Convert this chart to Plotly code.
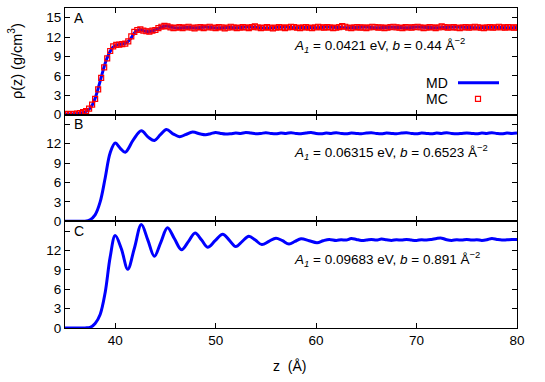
import plotly.graph_objects as go
from plotly.subplots import make_subplots

# ---------------- data ----------------
# Panel A: MC (red squares)
mc_z = [35.0, 35.3, 35.6, 35.9, 36.2, 36.5, 36.8, 37.1, 37.4, 37.7,
        38.0, 38.3, 38.6, 38.9, 39.2, 39.5, 39.8, 40.1, 40.4, 40.7,
        41.0, 41.3, 41.6, 41.9, 42.2, 42.5, 42.8, 43.1, 43.4, 43.7,
        44.0, 44.3, 44.6, 44.9, 45.2, 45.5, 45.8, 46.1, 46.4, 46.7,
        47.0, 47.3, 47.6, 47.9, 48.2, 48.5, 48.8, 49.1, 49.4, 49.7,
        50.0, 50.3, 50.6, 50.9, 51.2, 51.5, 51.8, 52.1, 52.4, 52.7,
        53.0, 53.3, 53.6, 53.9, 54.2, 54.5, 54.8, 55.1, 55.4, 55.7,
        56.0, 56.3, 56.6, 56.9, 57.2, 57.5, 57.8, 58.1, 58.4, 58.7,
        59.0, 59.3, 59.6, 59.9, 60.2, 60.5, 60.8, 61.1, 61.4, 61.7,
        62.0, 62.3, 62.6, 62.9, 63.2, 63.5, 63.8, 64.1, 64.4, 64.7,
        65.0, 65.3, 65.6, 65.9, 66.2, 66.5, 66.8, 67.1, 67.4, 67.7,
        68.0, 68.3, 68.6, 68.9, 69.2, 69.5, 69.8, 70.1, 70.4, 70.7,
        71.0, 71.3, 71.6, 71.9, 72.2, 72.5, 72.8, 73.1, 73.4, 73.7,
        74.0, 74.3, 74.6, 74.9, 75.2, 75.5, 75.8, 76.1, 76.4, 76.7,
        77.0, 77.3, 77.6, 77.9, 78.2, 78.5, 78.8, 79.1, 79.4, 79.7,
        80.0]
mc_rho = [0.10, 0.12, 0.10, 0.14, 0.18, 0.25, 0.38, 0.55, 0.95, 1.55,
          2.45, 3.90, 5.70, 7.30, 8.70, 9.85, 10.55, 10.80, 10.85, 10.90,
          11.00, 11.35, 12.10, 12.80, 13.10, 13.20, 13.00, 12.90, 12.85, 13.00,
          13.10, 13.40, 13.60, 13.75, 13.65, 13.50, 13.40, 13.45, 13.55, 13.40,
          13.50, 13.60, 13.45, 13.35, 13.50, 13.55, 13.40, 13.50, 13.60, 13.45,
          13.40, 13.55, 13.50, 13.35, 13.45, 13.60, 13.50, 13.40, 13.45, 13.55,
          13.50, 13.40, 13.55, 13.65, 13.50, 13.40, 13.45, 13.55, 13.45, 13.35,
          13.45, 13.55, 13.50, 13.40, 13.50, 13.60, 13.55, 13.45, 13.40, 13.50,
          13.55, 13.45, 13.40, 13.50, 13.60, 13.50, 13.45, 13.55, 13.50, 13.40,
          13.45, 13.55, 13.70, 13.60, 13.45, 13.40, 13.50, 13.55, 13.45, 13.50,
          13.40, 13.50, 13.60, 13.55, 13.45, 13.50, 13.40, 13.45, 13.55, 13.60,
          13.50, 13.45, 13.40, 13.55, 13.50, 13.45, 13.55, 13.60, 13.50, 13.40,
          13.45, 13.55, 13.50, 13.40, 13.50, 13.65, 13.55, 13.45, 13.50, 13.55,
          13.45, 13.40, 13.50, 13.55, 13.45, 13.50, 13.60, 13.50, 13.45, 13.40,
          13.50, 13.55, 13.45, 13.50, 13.60, 13.50, 13.45, 13.55, 13.50, 13.45,
          13.50]

# Panel A: MD (blue line)
md_a_z = [35.0, 35.5, 36.0, 36.5, 37.0, 37.3, 37.6, 37.9, 38.2, 38.5,
          38.8, 39.1, 39.4, 39.7, 40.0, 40.4, 40.8, 41.2, 41.6, 42.0,
          42.4, 42.8, 43.2, 43.6, 44.0, 44.4, 44.8, 45.2, 45.7, 46.2,
          47, 48, 49, 50, 51, 52, 53, 54, 55, 56,
          57, 58, 59, 60, 61, 62, 63, 64, 65, 66,
          67, 68, 69, 70, 71, 72, 73, 74, 75, 76,
          77, 78, 79, 80]
md_a_rho = [0.10, 0.10, 0.14, 0.22, 0.42, 0.70, 1.20, 2.10, 3.50, 5.20,
            6.90, 8.40, 9.50, 10.30, 10.70, 10.85, 10.95, 11.20, 11.90, 12.80,
            13.15, 13.00, 12.85, 12.90, 13.10, 13.40, 13.65, 13.70, 13.50, 13.40,
            13.50, 13.45, 13.55, 13.40, 13.50, 13.45, 13.55, 13.50, 13.40, 13.50,
            13.55, 13.45, 13.50, 13.45, 13.55, 13.50, 13.45, 13.50, 13.55, 13.45,
            13.50, 13.50, 13.45, 13.55, 13.50, 13.45, 13.50, 13.55, 13.50, 13.45,
            13.50, 13.50, 13.45, 13.50]

# Panel B: MD
md_b_z = [35.0, 36.0, 37.0, 37.5, 38.0, 38.5, 39.0, 39.5, 40.0, 40.5,
          41.0, 41.8, 42.6, 43.3, 43.9, 44.5, 45.1, 45.8, 46.4, 47.0,
          47.7, 48.5, 49.0, 49.5, 50.0, 50.5, 51.0, 51.5, 52.0, 52.5,
          53.0, 53.5, 54.0, 54.5, 55.0, 55.5, 56.0, 56.5, 57.0, 57.5,
          58.0, 58.5, 59.0, 59.5, 60.0, 60.5, 61.0, 61.5, 62.0, 62.5,
          63.0, 63.5, 64.0, 64.5, 65.0, 65.5, 66.0, 66.5, 67.0, 67.5,
          68.0, 68.5, 69.0, 69.5, 70.0, 70.5, 71.0, 71.5, 72.0, 72.5,
          73.0, 73.5, 74.0, 74.5, 75.0, 75.5, 76.0, 76.5, 77.0, 77.5,
          78.0, 78.5, 79.0, 79.5, 80.0]
md_b_rho = [0.0, 0.0, 0.03, 0.25, 1.0, 3.0, 6.7, 10.6, 12.1, 11.3,
            10.7, 12.6, 14.0, 13.0, 12.5, 13.4, 14.2, 13.5, 13.1, 13.4,
            13.8, 13.50, 13.40, 13.55, 13.75, 13.60, 13.50, 13.55, 13.65, 13.60,
            13.75, 13.65, 13.55, 13.60, 13.70, 13.60, 13.55, 13.65, 13.60, 13.70,
            13.60, 13.55, 13.65, 13.75, 13.60, 13.55, 13.65, 13.60, 13.70, 13.60,
            13.55, 13.65, 13.60, 13.55, 13.65, 13.70, 13.60, 13.55, 13.65, 13.60,
            13.55, 13.65, 13.70, 13.60, 13.55, 13.65, 13.60, 13.55, 13.65, 13.60,
            13.70, 13.60, 13.55, 13.60, 13.65, 13.60, 13.55, 13.65, 13.60, 13.70,
            13.60, 13.55, 13.65, 13.60, 13.65]

# Panel C: MD
md_c_z = [35.0, 36.0, 37.0, 37.5, 38.0, 38.5, 39.0, 39.5, 40.0, 40.6,
          41.25, 41.9, 42.6, 43.25, 43.9, 44.55, 45.2, 45.9, 46.6, 47.3,
          47.95, 48.6, 49.2, 49.95, 50.7, 51.35, 52.0, 52.65, 53.3, 53.95,
          54.6, 55.3, 56.0, 56.65, 57.3, 57.9, 58.5, 59.3, 60.1, 60.7,
          61.3, 62.0, 62.5, 63.0, 63.5, 64.0, 64.5, 65.0, 65.5, 66.0,
          66.5, 67.0, 67.5, 68.0, 68.5, 69.0, 69.5, 70.0, 70.5, 71.0,
          71.5, 72.0, 72.5, 73.0, 73.5, 74.0, 74.5, 75.0, 75.5, 76.0,
          76.5, 77.0, 77.5, 78.0, 78.5, 79.0, 79.5, 80.0]
md_c_rho = [0.0, 0.0, 0.02, 0.1, 0.7, 2.1, 5.5, 11.0, 14.3, 12.3,
            9.1, 12.3, 16.0, 13.6, 11.1, 13.3, 15.5, 13.8, 12.1, 13.4,
            14.7, 13.6, 12.5, 13.5, 14.5, 13.6, 12.6, 13.4, 14.2, 13.6,
            12.9, 13.4, 13.9, 13.5, 13.0, 13.4, 13.8, 13.5, 13.2, 13.5,
            13.7, 13.55, 13.65, 13.60, 13.85, 13.70, 13.55, 13.60, 13.70, 13.60,
            13.75, 13.65, 13.55, 13.65, 13.60, 13.70, 13.60, 13.55, 13.65, 13.60,
            13.70, 13.85, 13.90, 13.65, 13.55, 13.65, 13.60, 13.70, 13.60, 13.65,
            13.55, 13.65, 13.85, 13.70, 13.60, 13.65, 13.70, 13.70]

assert len(mc_z) == len(mc_rho)
assert len(md_a_z) == len(md_a_rho)
assert len(md_b_z) == len(md_b_rho)
assert len(md_c_z) == len(md_c_rho)

panel_letters = ["A", "B", "C"]
panel_texts = [
    "<i>A<sub>1</sub></i> = 0.0421 eV, <i>b</i> = 0.44 Å<sup>−2</sup>",
    "<i>A<sub>1</sub></i> = 0.06315 eV, <i>b</i> = 0.6523 Å<sup>−2</sup>",
    "<i>A<sub>1</sub></i> = 0.09683 eV, <i>b</i> = 0.891 Å<sup>−2</sup>",
]
y_ticks = [0, 3, 6, 9, 12, 15]
x_ticks = [40, 50, 60, 70, 80]

# ---------------- figure ----------------
FONT = "Liberation Sans, Arial, Helvetica, sans-serif"
BLUE = "#0000ff"
RED = "#ff0000"

fig = make_subplots(rows=3, cols=1, shared_xaxes=True, vertical_spacing=0)

fig.add_trace(go.Scatter(x=md_a_z, y=md_a_rho, mode="lines", line=dict(color=BLUE, width=3, shape="spline"),
                         showlegend=False, name="MD"), row=1, col=1)
fig.add_trace(go.Scatter(x=mc_z, y=mc_rho, mode="markers",
                         marker=dict(symbol="square-open", size=5, color=RED, line=dict(width=1.2, color=RED)),
                         showlegend=False, name="MC"), row=1, col=1)
fig.add_trace(go.Scatter(x=md_b_z, y=md_b_rho, mode="lines", line=dict(color=BLUE, width=3, shape="spline"),
                         showlegend=False), row=2, col=1)
fig.add_trace(go.Scatter(x=md_c_z, y=md_c_rho, mode="lines", line=dict(color=BLUE, width=3, shape="spline"),
                         showlegend=False), row=3, col=1)

for r in range(1, 4):
    fig.update_xaxes(range=[35, 80], tickvals=x_ticks, ticks="inside", ticklen=5, tickcolor="black",
                     showline=True, linecolor="black", linewidth=1, mirror="ticks", showgrid=False,
                     zeroline=False, showticklabels=(r == 3), row=r, col=1,
                     tickfont=dict(family=FONT, size=13.5, color="black"))
    ticktext = [str(v) for v in y_ticks] if r == 1 else [str(v) for v in y_ticks[:-1]] + [""]
    fig.update_yaxes(range=[0, 16.5], tickvals=y_ticks, ticktext=ticktext, ticks="inside", ticklen=5,
                     tickcolor="black", showline=True, linecolor="black", linewidth=1, mirror="ticks",
                     showgrid=False, zeroline=False, row=r, col=1,
                     tickfont=dict(family=FONT, size=13.5, color="black"))

ann = []
for i, (letter, txt) in enumerate(zip(panel_letters, panel_texts)):
    sfx = "" if i == 0 else str(i + 1)
    ann.append(dict(text=letter, xref=f"x{sfx} domain", yref=f"y{sfx} domain", x=0.03, y=0.91,
                    xanchor="center", yanchor="middle", showarrow=False,
                    font=dict(family=FONT, size=14, color="black")))
    ann.append(dict(text=txt, xref=f"x{sfx}", yref=f"y{sfx}", x=57.6, y=10.7,
                    xanchor="left", yanchor="middle", showarrow=False,
                    font=dict(family=FONT, size=13.5, color="black")))

# axis titles
ann.append(dict(text="ρ(z) (g/cm<sup>3</sup>)", xref="paper", yref="paper", x=-0.11, y=0.835,
                textangle=-90, xanchor="center", yanchor="middle", showarrow=False,
                font=dict(family=FONT, size=14.5, color="black")))
ann.append(dict(text="z\u00a0\u00a0(Å)", xref="paper", yref="paper", x=0.497, y=-0.12,
                xanchor="center", yanchor="middle", showarrow=False,
                font=dict(family=FONT, size=14, color="black")))

# legend (gnuplot style: text left, key right)
def px_x(px):
    return (px - 65) / 452.0

def px_y(py):
    return 1 - (py - 8) / 320.6

ann.append(dict(text="MD", xref="paper", yref="paper", x=px_x(450), y=px_y(83),
                xanchor="right", yanchor="middle", showarrow=False,
                font=dict(family=FONT, size=14, color="black")))
ann.append(dict(text="MC", xref="paper", yref="paper", x=px_x(450), y=px_y(99),
                xanchor="right", yanchor="middle", showarrow=False,
                font=dict(family=FONT, size=14, color="black")))

shapes = [
    dict(type="line", xref="paper", yref="paper", x0=px_x(458), x1=px_x(499), y0=px_y(83), y1=px_y(83),
         line=dict(color=BLUE, width=3)),
    dict(type="rect", xref="paper", yref="paper", x0=px_x(475.5), x1=px_x(480.5), y0=px_y(101.5), y1=px_y(96.5),
         line=dict(color=RED, width=1.2)),
]

fig.update_layout(
    width=545, height=382,
    margin=dict(l=65, r=28, t=8, b=54),
    paper_bgcolor="white", plot_bgcolor="white",
    annotations=ann, shapes=shapes, showlegend=False,
    font=dict(family=FONT, size=13, color="black"),
)

fig.write_html("out.html", config={"displayModeBar": False},
               post_script="document.body.style.margin='0px';document.body.style.overflow='hidden';")
